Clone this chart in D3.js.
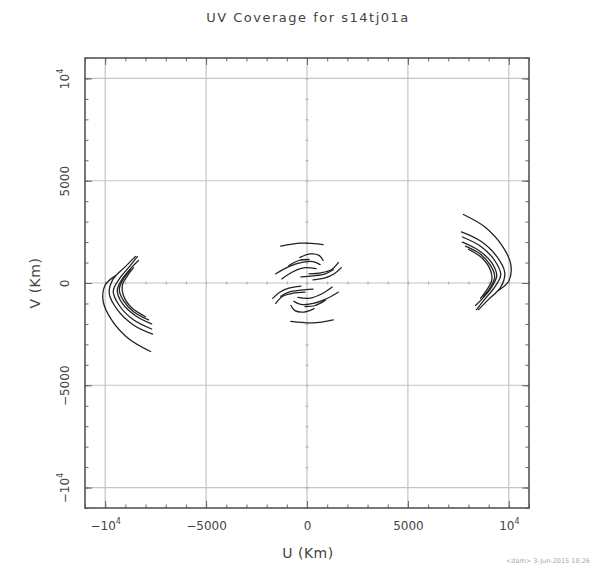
<!DOCTYPE html>
<html>
<head>
<meta charset="utf-8">
<script src="https://cdn.jsdelivr.net/npm/d3@7"></script>
<style>
  html, body { margin: 0; padding: 0; background: #fff; }
  svg { display: block; }
  text { font-family: "DejaVu Sans", sans-serif; fill: #444; }
</style>
</head>
<body>
<div id="chart"></div>
<script>
// tick values and labels
const majorTicks = [-10000, -5000, 0, 5000, 10000];
const tickBase = ['\u221210', '\u22125000', '0', '5000', '10'];
const tickExp = ['4', '', '', '', '4'];

// long baselines (u, v in km)
const longTracks = [
  [[7750, 3350], [8800, 2750], [9650, 1850], [10100, 900], [10000, 100], [9500, -350]],
  [[7650, 2500], [8600, 2050], [9400, 1300], [9800, 500], [9600, -200], [9000, -800], [8500, -1300]],
  [[7700, 2250], [8600, 1800], [9300, 1100], [9600, 400], [9300, -200], [8800, -800], [8400, -1300]],
  [[7700, 2000], [8500, 1600], [9150, 1000], [9400, 350], [9150, -200], [8700, -750], [8350, -1100]],
  [[7850, 1800], [8600, 1400], [9100, 850], [9300, 300], [9100, -200], [8750, -650]],
  [[8000, 1650], [8700, 1200], [9100, 600], [9150, 100], [8900, -350], [8600, -750]]
];

// short baselines around the origin
const shortTracks = [
  [[-1300, 1800], [-300, 1950], [800, 1880]],
  [[-350, 1250], [150, 1420], [600, 1350], [800, 1100]],
  [[-1550, 450], [-900, 800], [-300, 1000], [300, 1050], [650, 900]],
  [[-1250, 200], [-700, 550], [-100, 750], [450, 700]],
  [[-900, 850], [-400, 1100], [100, 1150]],
  [[100, 450], [700, 500], [1200, 650], [1550, 1000]],
  [[300, 150], [900, 250], [1350, 450], [1700, 750]],
  [[-300, 300], [300, 350], [900, 450], [1300, 650]]
];

const W = 616, H = 568;
const x = d3.scaleLinear().domain([-11000, 11000]).range([85, 529]);
const y = d3.scaleLinear().domain([-11000, 11000]).range([508, 58]);

const svg = d3.select('#chart').append('svg')
  .attr('width', W)
  .attr('height', H);

// grid
svg.append('g')
  .selectAll('line.vg')
  .data(majorTicks)
  .enter()
  .append('line')
  .attr('x1', d => x(d)).attr('x2', d => x(d))
  .attr('y1', y.range()[1]).attr('y2', y.range()[0])
  .attr('stroke', '#c4c4c4').attr('stroke-width', 1.2);

svg.append('g')
  .selectAll('line.hg')
  .data(majorTicks)
  .enter()
  .append('line')
  .attr('x1', x.range()[0]).attr('x2', x.range()[1])
  .attr('y1', d => y(d)).attr('y2', d => y(d))
  .attr('stroke', '#c4c4c4').attr('stroke-width', 1.2);

// small ticks along the zero axes
const minor = x.ticks(22);
const zeroAxisX = d3.axisBottom(x).tickValues(minor).tickSize(3).tickSizeOuter(0).tickFormat('');
const zx = svg.append('g').attr('transform', `translate(0,${y(0) - 1.5})`).call(zeroAxisX);
zx.select('.domain').remove();
zx.selectAll('line').attr('stroke', '#aaa');
const zeroAxisY = d3.axisLeft(y).tickValues(minor).tickSize(3).tickSizeOuter(0).tickFormat('');
const zy = svg.append('g').attr('transform', `translate(${x(0) + 1.5},0)`).call(zeroAxisY);
zy.select('.domain').remove();
zy.selectAll('line').attr('stroke', '#aaa');

// frame axes with inward ticks
function frameAxis(axisFn, scale, transform) {
  const gMinor = svg.append('g').attr('transform', transform)
    .call(axisFn(scale).tickValues(minor).tickSizeInner(-3.5).tickSizeOuter(0).tickFormat(''));
  gMinor.select('.domain').remove();
  gMinor.selectAll('line').attr('stroke', '#666');
  const gMajor = svg.append('g').attr('transform', transform)
    .call(axisFn(scale).tickValues(majorTicks).tickSizeInner(-7).tickSizeOuter(0).tickFormat(''));
  gMajor.select('.domain').remove();
  gMajor.selectAll('line').attr('stroke', '#666');
  return gMajor;
}
const gx = frameAxis(d3.axisBottom, x, `translate(0,${y.range()[0]})`);
frameAxis(d3.axisTop, x, `translate(0,${y.range()[1]})`);
const gy = frameAxis(d3.axisLeft, y, `translate(${x.range()[0]},0)`);
frameAxis(d3.axisRight, y, `translate(${x.range()[1]},0)`);

svg.append('rect')
  .attr('x', x.range()[0]).attr('y', y.range()[1])
  .attr('width', x.range()[1] - x.range()[0])
  .attr('height', y.range()[0] - y.range()[1])
  .attr('fill', 'none')
  .attr('stroke', '#555')
  .attr('stroke-width', 1.6);

// tick labels
gx.selectAll('.tick').each(function (d, i) {
  const t = d3.select(this).append('text')
    .attr('y', 22)
    .attr('text-anchor', 'middle')
    .style('font-size', '12px')
    .style('fill', '#444');
  t.append('tspan').text(tickBase[i]);
  if (tickExp[i]) t.append('tspan').attr('dy', -6).style('font-size', '8px').text(tickExp[i]);
});

gy.selectAll('.tick').each(function (d, i) {
  const t = d3.select(this).append('text')
    .attr('transform', 'translate(-16,0) rotate(-90)')
    .attr('text-anchor', 'middle')
    .style('font-size', '12px')
    .style('fill', '#444');
  t.append('tspan').text(tickBase[i]);
  if (tickExp[i]) t.append('tspan').attr('dy', -6).style('font-size', '8px').text(tickExp[i]);
});

// titles
svg.append('text')
  .attr('x', 308).attr('y', 22)
  .attr('text-anchor', 'middle')
  .style('font-size', '13px')
  .style('letter-spacing', '1.5px')
  .text('UV Coverage for s14tj01a');

svg.append('text')
  .attr('x', 308).attr('y', 558)
  .attr('text-anchor', 'middle')
  .style('font-size', '14px')
  .style('letter-spacing', '0.5px')
  .text('U (Km)');

svg.append('text')
  .attr('transform', `translate(40,${y(0)}) rotate(-90)`)
  .attr('text-anchor', 'middle')
  .style('font-size', '14px')
  .style('letter-spacing', '0.5px')
  .text('V (Km)');

svg.append('text')
  .attr('x', 590).attr('y', 563)
  .attr('text-anchor', 'end')
  .style('font-size', '6.5px')
  .style('fill', '#aaa')
  .text('<dam>  3-Jun-2015 18:26');

// uv tracks: each baseline plus its conjugate (-u, -v)
const line = d3.line()
  .x(d => x(d[0]))
  .y(d => y(d[1]))
  .curve(d3.curveCatmullRom);

const tracks = longTracks.concat(shortTracks);
const allTracks = tracks.concat(tracks.map(t => t.map(p => [-p[0], -p[1]])));

svg.append('g')
  .selectAll('path')
  .data(allTracks)
  .enter()
  .append('path')
  .attr('d', line)
  .attr('fill', 'none')
  .attr('stroke', '#222')
  .attr('stroke-width', 1.3)
  .attr('stroke-linecap', 'round');
</script>
</body>
</html>
